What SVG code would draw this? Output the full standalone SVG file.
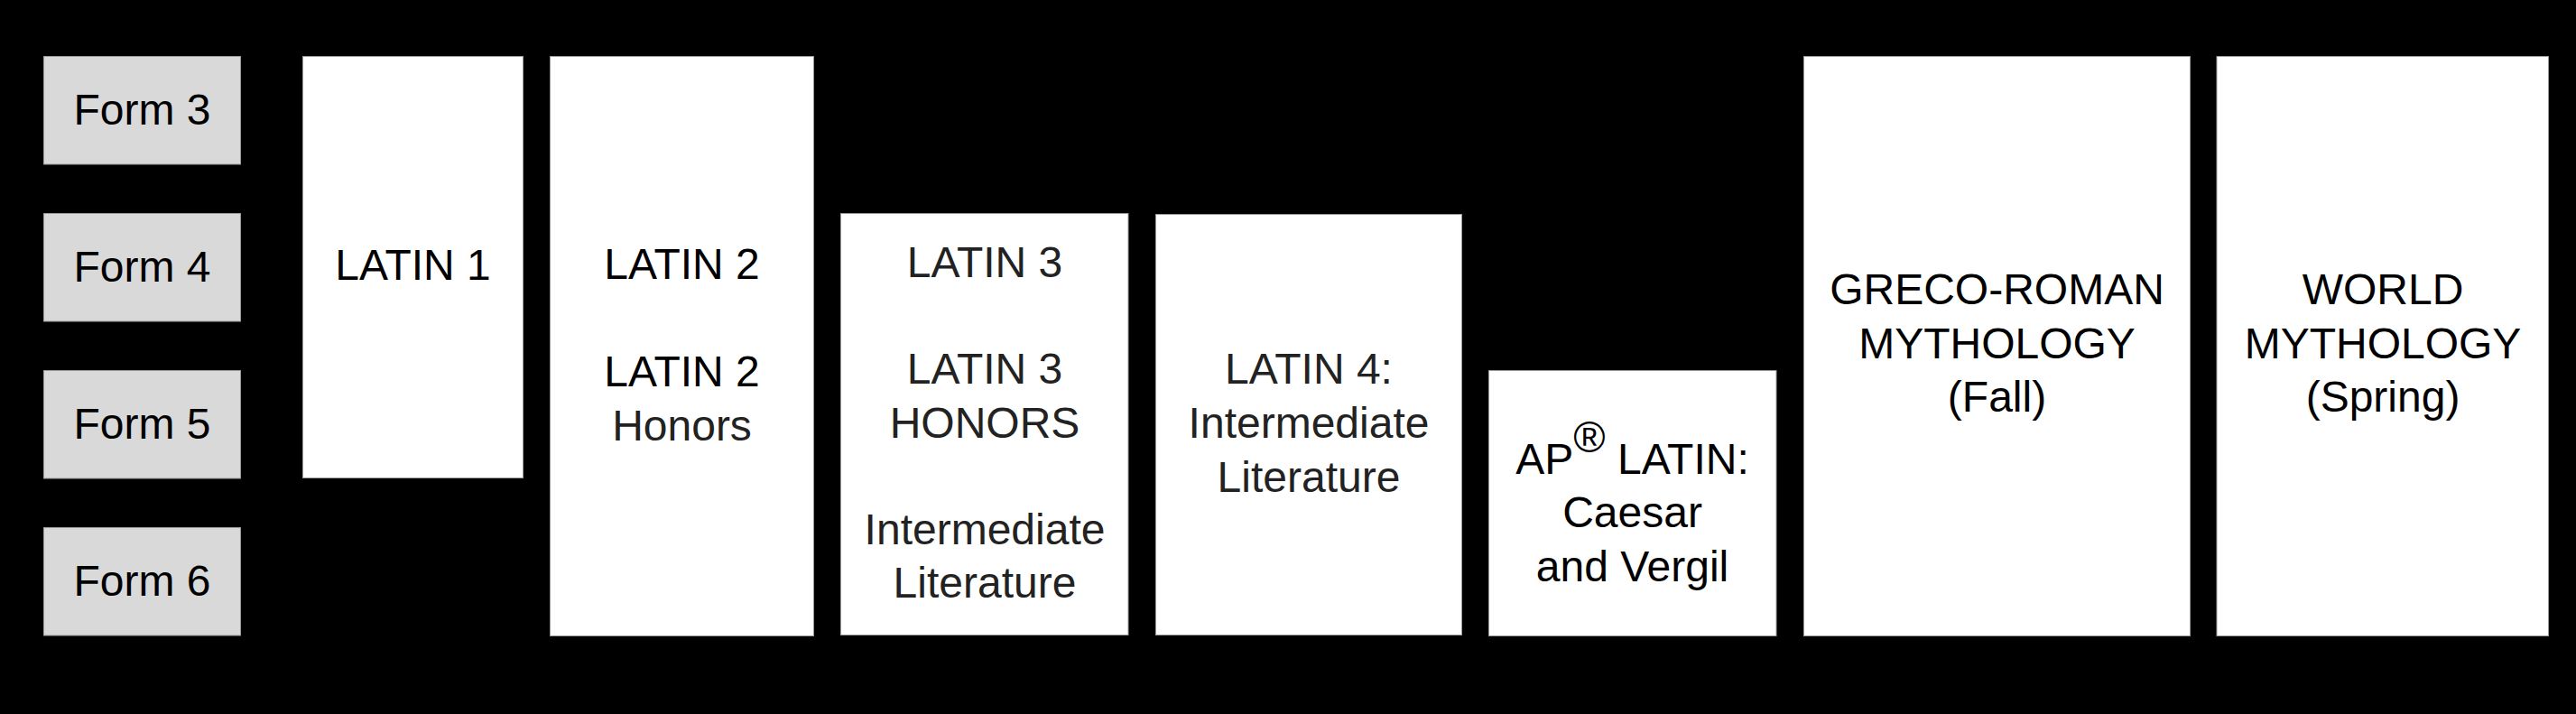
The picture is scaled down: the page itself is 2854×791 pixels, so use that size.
<svg xmlns="http://www.w3.org/2000/svg" width="2854" height="791" viewBox="0 0 2854 791">
<style>
.bg{fill:#000}
.form{fill:#d9d9d9;stroke:#9a9a9a;stroke-width:1}
.box{fill:#fff;stroke:#9a9a9a;stroke-width:1}
text{font-family:"Liberation Sans",Arial,Helvetica,sans-serif;font-size:48px;text-anchor:middle;fill:#000}
.g{fill:#222}
</style>
<rect class="bg" x="0" y="0" width="2854" height="791"/>
<g id="form3"><rect class="form" x="48.5" y="62.5" width="218" height="119.5"/><text x="157.5" y="138">Form 3</text></g>
<g id="form4"><rect class="form" x="48.5" y="236.5" width="218" height="119.5"/><text x="157.5" y="312">Form 4</text></g>
<g id="form5"><rect class="form" x="48.5" y="410.5" width="218" height="119.5"/><text x="157.5" y="486">Form 5</text></g>
<g id="form6"><rect class="form" x="48.5" y="584.5" width="218" height="119.5"/><text x="157.5" y="660">Form 6</text></g>
<g id="latin1"><rect class="box" x="335.5" y="62.5" width="244" height="467"/><text x="457.5" y="310">LATIN 1</text></g>
<g id="latin2"><rect class="box" x="609.5" y="62.5" width="292" height="642"/><text x="755.5" y="309">LATIN 2</text><text x="755.5" y="428">LATIN 2</text><text class="g" x="755.5" y="488">Honors</text></g>
<g id="latin3"><rect class="box" x="931.5" y="236.5" width="318.5" height="467"/><text class="g" x="1091" y="307">LATIN 3</text><text class="g" x="1091" y="425">LATIN 3</text><text class="g" x="1091" y="485">HONORS</text><text class="g" x="1091" y="603">Intermediate</text><text class="g" x="1091" y="662">Literature</text></g>
<g id="latin4"><rect class="box" x="1280.5" y="237.5" width="339" height="466"/><text class="g" x="1450" y="425">LATIN 4:</text><text class="g" x="1450" y="485">Intermediate</text><text class="g" x="1450" y="545">Literature</text></g>
<g id="aplatin"><rect class="box" x="1649.5" y="410.5" width="318.5" height="294"/><text x="1808.5" y="525">AP<tspan dy="-24">®</tspan><tspan dy="24"> LATIN:</tspan></text><text x="1808.5" y="584">Caesar</text><text x="1808.5" y="644">and Vergil</text></g>
<g id="grecoroman"><rect class="box" x="1998.5" y="62.5" width="428" height="642"/><text x="2212.5" y="337">GRECO-ROMAN</text><text x="2212.5" y="397">MYTHOLOGY</text><text x="2212.5" y="456">(Fall)</text></g>
<g id="worldmyth"><rect class="box" x="2456" y="62.5" width="367.5" height="642"/><text x="2640" y="337">WORLD</text><text x="2640" y="397">MYTHOLOGY</text><text x="2640" y="456">(Spring)</text></g>
<g id="connectors"></g>
</svg>
